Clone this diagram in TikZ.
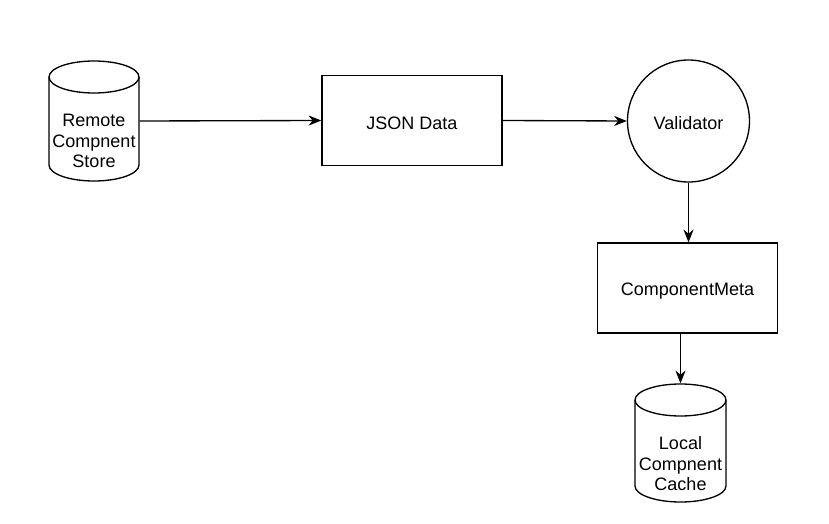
\documentclass[tikz,border=0pt]{standalone}
\usepackage{fontspec}
\setmainfont{Liberation Sans}
\usetikzlibrary{arrows.meta}
\begin{document}
\begin{tikzpicture}[x=0.75pt,y=-0.75pt,
  line width=1pt,
  txt/.style={font=\fontsize{13.5pt}{15.4pt}\selectfont, align=center, inner sep=0pt},
  boxnode/.style={draw, rectangle, minimum width=135pt, minimum height=67.5pt, txt},
  anchorbox/.style={rectangle, inner sep=0pt},
  conn/.style={-{Stealth[length=9.5pt,width=7.5pt,inset=3pt]}}]
\useasboundingbox (0,0) rectangle (829,524);
% Remote cylinder
\draw (49,77) -- (49,165) arc[start angle=180,end angle=360,x radius=33.75pt,y radius=12pt] -- (139,77);
\draw (94,77) ellipse[x radius=33.75pt,y radius=12pt];
\node[anchorbox, minimum width=67.5pt, minimum height=90pt] (remote) at (94,121) {};
\node[txt] (remotetxt) at (94,141) {Remote\\Compnent\\Store};
% JSON Data
\node[boxnode] (json) at (412,120.5) {};
\node[txt] (jsontxt) at (412,123.5) {JSON Data};
% Validator
\node[draw, circle, minimum size=91.5pt] (val) at (688.5,121) {};
\node[txt] (valtxt) at (688.5,123.5) {Validator};
% ComponentMeta
\node[boxnode] (meta) at (687.5,288) {};
\node[txt] (metatxt) at (687.5,291) {ComponentMeta};
% Local cylinder
\draw (635,400) -- (635,486) arc[start angle=180,end angle=360,x radius=34.125pt,y radius=12pt] -- (726,400);
\draw (680.5,400) ellipse[x radius=34.125pt,y radius=12pt];
\node[anchorbox, minimum width=68.25pt, minimum height=88.5pt] (local) at (680.5,443) {};
\node[txt] (localtxt) at (680.5,464) {Local\\Compnent\\Cache};
% connectors
\draw[conn] (remote.east) -- (json.west);
\draw[conn] (json.east) -- (val.west);
\draw[conn] (val.south) -- (val.south |- meta.north);
\draw[conn] (meta.south -| local.north) -- (local.north);
\end{tikzpicture}
\end{document}
